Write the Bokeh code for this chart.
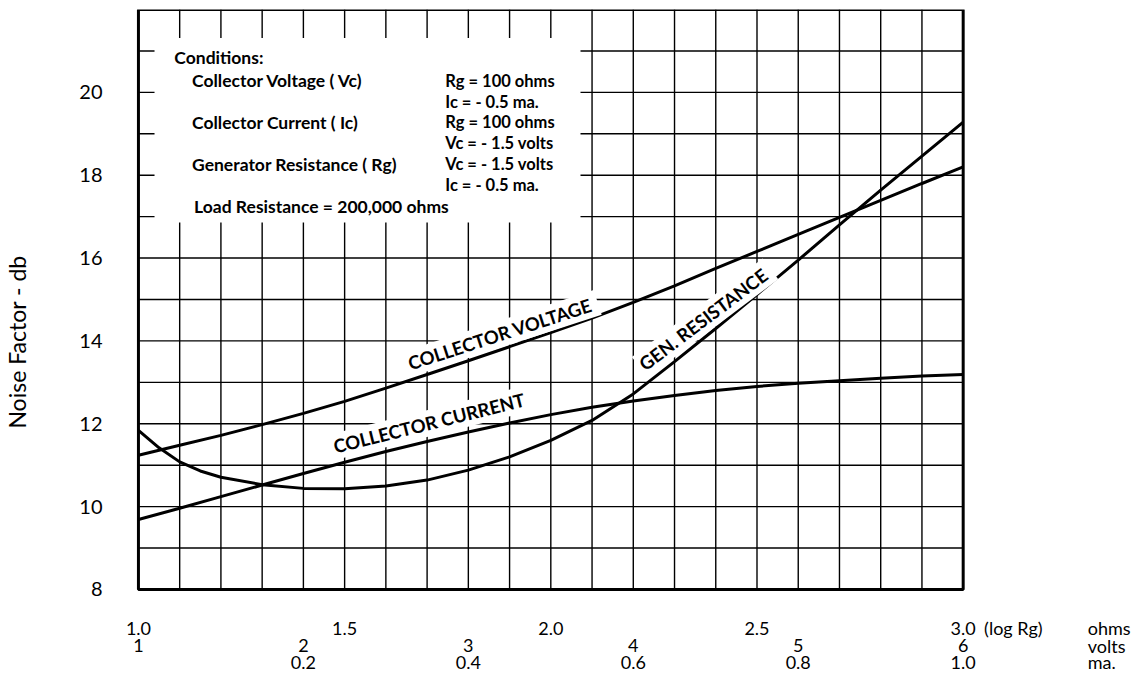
from bokeh.plotting import figure
from bokeh.models import Range1d, FixedTicker
from bokeh.core.properties import value
from bokeh.embed import file_html
from bokeh.resources import INLINE

# ---- data (x = log10 of generator resistance) ----
log_rg = [1.0, 1.1, 1.2, 1.3, 1.4, 1.5, 1.6, 1.7, 1.8, 1.9, 2.0,
          2.1, 2.2, 2.3, 2.4, 2.5, 2.6, 2.7, 2.8, 2.9, 3.0]
collector_voltage = [11.24, 11.48, 11.72, 11.98, 12.25, 12.54, 12.86, 13.19, 13.52, 13.86, 14.20,
                     14.55, 14.93, 15.33, 15.75, 16.16, 16.57, 16.98, 17.39, 17.80, 18.20]
collector_current = [9.69, 9.96, 10.24, 10.52, 10.80, 11.07, 11.33, 11.57, 11.80, 12.02, 12.22,
                     12.40, 12.55, 12.68, 12.80, 12.90, 12.98, 13.04, 13.10, 13.15, 13.19]
gen_x = [1.0, 1.05, 1.1, 1.15, 1.2, 1.3, 1.4, 1.5, 1.6, 1.7, 1.8, 1.9, 2.0,
         2.1, 2.2, 2.3, 2.4, 2.5, 2.6, 2.7, 2.8, 2.9, 3.0]
gen_resistance = [11.84, 11.42, 11.08, 10.86, 10.71, 10.53, 10.44, 10.43, 10.50, 10.64, 10.88, 11.20, 11.60,
                  12.08, 12.72, 13.50, 14.30, 15.12, 15.95, 16.80, 17.64, 18.46, 19.28]

y_ticks = [8, 10, 12, 14, 16, 18, 20]
grid_x = [1.1, 1.2, 1.3, 1.4, 1.5, 1.6, 1.7, 1.8, 1.9, 2.0, 2.1, 2.2, 2.3, 2.4, 2.5, 2.6, 2.7, 2.8, 2.9]
grid_y = [9, 10, 11, 12, 13, 14, 15, 16, 17, 18, 19, 20, 21]
x_lo, x_hi, y_lo, y_hi = 1.0, 3.0, 8, 22

log_vals = [1.0, 1.5, 2.0, 2.5, 3.0]
log_labels = ["1.0", "1.5", "2.0", "2.5", "3.0"]
volt_vals = [1, 2, 3, 4, 5, 6]
ma_vals = [0.2, 0.4, 0.6, 0.8, 1.0]
ma_labels = ["0.2", "0.4", "0.6", "0.8", "1.0"]

cond_left = ["Conditions:", "Collector Voltage ( Vc)", "Collector Current ( Ic)",
             "Generator Resistance ( Rg)", "Load Resistance = 200,000 ohms"]
cond_right = ["Rg = 100 ohms", "Ic = - 0.5 ma.", "Rg = 100 ohms",
              "Vc = - 1.5 volts", "Vc = - 1.5 volts", "Ic = - 0.5 ma."]

FONT = "Lato"

# frame spans the chart box plus the label rows underneath and the unit column on the right
p = figure(width=1135, height=674, x_range=Range1d(0.966184, 3.41787), y_range=Range1d(5.947, y_hi),
           x_axis_type=None, output_backend="svg", toolbar_location=None,
           min_border_left=120, min_border_right=0, min_border_top=9, min_border_bottom=0)
p.background_fill_color = "white"
p.border_fill_color = "white"
p.outline_line_color = None
p.xgrid.visible = False
p.ygrid.visible = False

ya = p.yaxis[0]
ya.ticker = FixedTicker(ticks=y_ticks, minor_ticks=[])
ya.axis_line_color = None
ya.major_tick_line_color = None
ya.minor_tick_line_color = None
ya.major_tick_out = 0
ya.major_label_standoff = 22
ya.major_label_text_font = FONT
ya.major_label_text_font_size = "20px"
ya.major_label_text_color = "black"
ya.axis_label = "Noise Factor - db"
ya.axis_label_text_font = FONT
ya.axis_label_text_font_size = "23px"
ya.axis_label_text_font_style = "normal"
ya.axis_label_text_color = "black"
ya.axis_label_standoff = 45

# grid and frame
n = len(grid_x)
p.segment(x0=grid_x, y0=[y_lo] * n, x1=grid_x, y1=[y_hi] * n, line_color="black", line_width=1.4)
m = len(grid_y)
p.segment(x0=[x_lo] * m, y0=grid_y, x1=[x_hi] * m, y1=grid_y, line_color="black", line_width=1.4)

# white block behind the conditions text
p.quad(left=[1.039], right=[2.072], bottom=[16.86], top=[21.31], fill_color="white", line_color=None)

p.quad(left=[x_lo], right=[x_hi], bottom=[y_lo], top=[y_hi], fill_color=None,
       line_color="black", line_width=3)

lw = 3
p.line(log_rg, collector_voltage, line_color="black", line_width=lw)
p.line(log_rg, collector_current, line_color="black", line_width=lw)
p.line(gen_x, gen_resistance, line_color="black", line_width=lw)

def txt(xs, ys, texts, size="16px", style="normal", align="left", angle=0.0, bg=None):
    kw = dict(text_font=value(FONT), text_font_size=size, text_font_style=style,
              text_align=align, text_baseline="middle", angle=angle, angle_units="deg",
              text_color="black")
    if bg:
        kw.update(background_fill_color=bg, padding=2)
    p.text(x=xs, y=ys, text=texts, **kw)

# curve labels
txt([1.882], [14.18], ["COLLECTOR  VOLTAGE"], size="18.5px", style="bold", align="center", angle=18, bg="white")
txt([1.71], [12.03], ["COLLECTOR  CURRENT"], size="18.5px", style="bold", align="center", angle=14, bg="white")
txt([2.374], [14.55], ["GEN.  RESISTANCE"], size="18.5px", style="bold", align="center", angle=37, bg="white")

# conditions
left_y = [20.83, 20.29, 19.28, 18.27, 17.25]
left_x = [1.087, 1.13, 1.13, 1.13, 1.135]
txt(left_x, left_y, cond_left, size="17.5px", style="bold")
right_y = [20.27, 19.76, 19.28, 18.77, 18.27, 17.76]
txt([1.744] * len(cond_right), right_y, cond_right, size="16.5px", style="bold")

# x scale rows: log Rg (ohms), volts, ma
row1_y, row2_y, row3_y = 7.058, 6.647, 6.237
txt(log_vals, [row1_y] * len(log_vals), log_labels, size="18px", align="center")
txt([1.0 + 0.4 * (v - 1) for v in volt_vals], [row2_y] * len(volt_vals),
    [str(v) for v in volt_vals], size="18px", align="center")
txt([1.0 + 2.0 * mm for mm in ma_vals], [row3_y] * len(ma_vals), ma_labels, size="18px", align="center")
txt([3.0507], [row1_y], ["(log Rg)"], size="18px")
txt([3.302] * 3, [row1_y, row2_y, row3_y], ["ohms", "volts", "ma."], size="18px")

open("out.html", "w").write(file_html(p, INLINE))
